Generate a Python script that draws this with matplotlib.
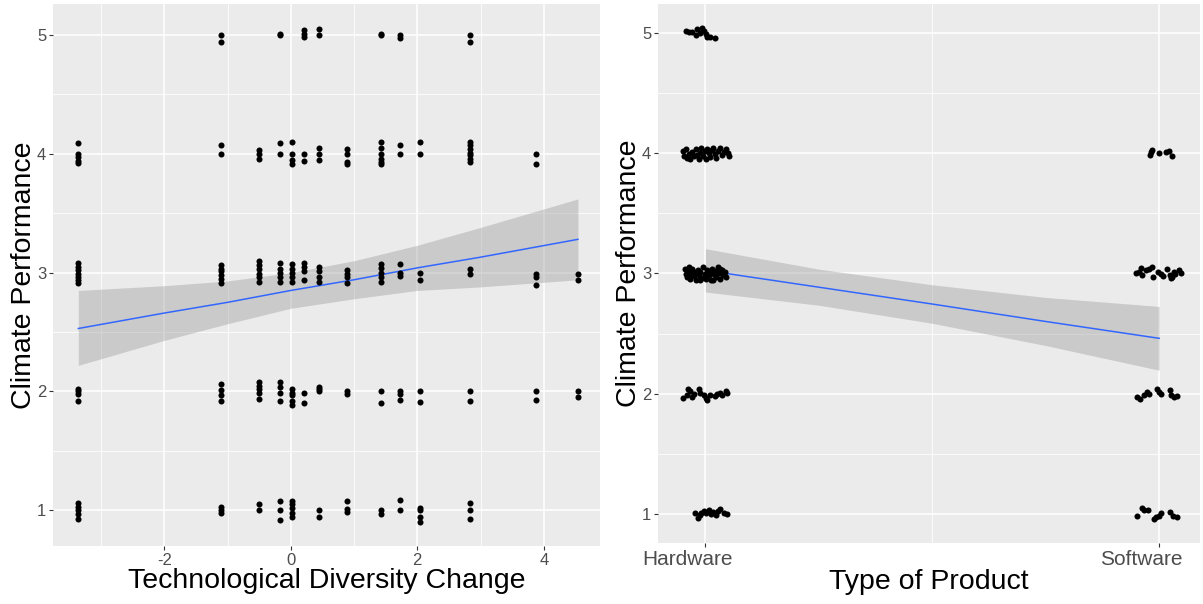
import numpy as np
import matplotlib
matplotlib.use('Agg')
import matplotlib.pyplot as plt
import matplotlib.transforms as mtransforms

plt.rcParams['font.family'] = ['Liberation Sans', 'DejaVu Sans']
plt.rcParams['axes.unicode_minus'] = False

# ---- left panel: technological diversity change (x) vs climate performance (y)
# x columns and the jittered y values found in each column, one list per column
tdc_cols = [-3.36, -1.10, -0.50, -0.17, 0.02, 0.215, 0.44, 0.89, 1.42, 1.72, 2.05, 2.83, 3.88, 4.54]
tdc_y = [
    [4.09, 4.00, 3.97, 3.94, 3.92, 3.08, 3.05, 3.02, 2.99, 2.96, 2.94, 2.91,
     2.02, 2.00, 1.98, 1.92, 1.06, 1.03, 1.00, 0.97, 0.93],                     # -3.36
    [5.00, 4.94, 4.07, 4.00, 3.06, 3.03, 3.01, 2.98, 2.95, 2.91,
     2.06, 2.01, 1.97, 1.92, 1.03, 1.00, 0.98],                                  # -1.10
    [4.03, 4.00, 3.96, 3.10, 3.06, 3.03, 2.99, 2.96, 2.92,
     2.08, 2.05, 2.02, 1.99, 1.94, 1.05, 1.00],                                  # -0.50
    [5.01, 5.00, 4.09, 4.00, 3.08, 3.03, 3.00, 2.96, 2.92,
     2.08, 2.04, 1.99, 1.92, 1.08, 1.00, 0.92],                                  # -0.17
    [4.10, 4.00, 3.95, 3.91, 3.07, 3.03, 3.00, 2.96, 2.92,
     2.02, 1.99, 1.97, 1.92, 1.89, 1.08, 1.05, 1.02, 0.98, 0.94],                # 0.02
    [5.04, 5.01, 4.98, 4.00, 3.94, 3.08, 3.05, 3.01, 2.94, 1.99, 1.90],          # 0.215
    [5.05, 5.00, 4.05, 4.00, 3.95, 3.05, 3.01, 2.96, 2.92,
     2.04, 2.02, 2.00, 1.00, 0.94],                                              # 0.44
    [4.04, 4.00, 3.93, 3.91, 3.02, 2.99, 2.96, 2.91, 2.00, 1.98,
     1.08, 1.01, 0.99],                                                          # 0.89
    [5.01, 5.00, 4.10, 4.05, 4.00, 3.96, 3.93, 3.91, 3.07, 3.04, 3.00, 2.96, 2.92,
     2.00, 1.90, 1.00, 0.97],                                                    # 1.42
    [5.00, 4.97, 4.07, 4.00, 3.07, 3.00, 2.97, 2.00, 1.98, 1.93, 1.09, 1.00],    # 1.72
    [4.10, 4.00, 3.00, 2.94, 2.00, 1.91, 1.02, 1.00, 0.94, 0.90],                # 2.05
    [5.00, 4.94, 4.10, 4.07, 4.04, 4.01, 3.99, 3.96, 3.93, 3.03, 2.99,
     2.00, 1.92, 1.06, 1.00, 0.93],                                              # 2.83
    [4.00, 3.91, 2.99, 2.96, 2.90, 2.00, 1.93],                                  # 3.88
    [2.99, 2.94, 2.00, 1.95],                                                    # 4.54
]

# linear smooth (fit with 95% band)
left_fit_x = [-3.36, -2.0, -1.0, 0.0, 1.0, 2.0, 3.0, 4.54]
left_fit_y = [2.53, 2.66, 2.75, 2.85, 2.94, 3.04, 3.13, 3.28]
left_fit_lo = [2.22, 2.43, 2.57, 2.70, 2.78, 2.85, 2.88, 2.94]
left_fit_hi = [2.85, 2.89, 2.93, 3.00, 3.10, 3.23, 3.38, 3.62]

# ---- right panel: type of product (jittered) vs climate performance
product_labels = ['Hardware', 'Software']

hw_dx = [-0.043, -0.036, -0.029, -0.020, -0.018, -0.012, -0.007, -0.003, 0.001, 0.004, 0.010, 0.020,
         -0.049, -0.048, -0.043, -0.040, -0.036, -0.033, -0.029, -0.025, -0.021, -0.018, -0.015, -0.012,
         -0.009, -0.005, -0.002, 0.001, 0.004, 0.007, 0.011, 0.014, 0.017, 0.021, 0.024, 0.028, 0.032,
         0.036, 0.040, 0.045, 0.049, 0.052,
         -0.045, -0.043, -0.040, -0.038, -0.034, -0.032, -0.029, -0.026, -0.023, -0.020, -0.017, -0.014,
         -0.011, -0.008, -0.005, -0.002, 0.001, 0.004, 0.007, 0.010, 0.012, 0.015, 0.018, 0.021, 0.024,
         0.027, 0.030, 0.033, 0.036, 0.039, 0.042, 0.045, -0.036, -0.012, 0.017, 0.032,
         -0.049, -0.040, -0.038, -0.033, -0.029, -0.025, -0.015, -0.012, -0.004, 0.001, 0.004, 0.010,
         0.021, 0.026, 0.032, 0.037, 0.045, 0.048,
         -0.023, -0.016, -0.012, -0.009, -0.004, 0.002, 0.008, 0.012, 0.017, 0.024, 0.028, 0.033,
         0.040, 0.048]
hw_y = [5.014, 5.008, 5.006, 4.978, 5.033, 5.000, 5.036, 5.014, 4.986, 4.967, 4.964, 4.958,
        4.017, 3.975, 4.036, 3.961, 3.989, 3.953, 4.008, 3.975, 4.031, 3.981, 3.953, 4.003,
        4.044, 3.975, 4.017, 3.953, 4.036, 3.997, 3.969, 4.025, 4.044, 3.989, 3.961, 4.017, 4.044,
        3.981, 4.008, 4.031, 3.997, 3.975,
        3.039, 2.997, 2.969, 3.019, 2.956, 2.997, 3.039, 2.975, 3.011, 2.947, 3.031, 2.983,
        3.011, 2.964, 3.053, 2.997, 2.956, 3.025, 2.983, 3.011, 2.947, 3.039, 2.992, 3.019, 2.969,
        3.053, 3.003, 2.956, 3.031, 2.983, 3.011, 2.969, 3.053, 2.942, 2.942, 3.039,
        1.967, 1.986, 2.042, 2.022, 1.972, 1.994, 2.042, 2.006, 1.986, 1.964, 1.944, 1.986,
        1.978, 1.994, 2.006, 1.992, 2.022, 2.006,
        1.006, 0.964, 0.992, 1.011, 1.028, 1.006, 1.033, 1.000, 1.017, 0.992, 1.028, 1.039,
        1.006, 0.997]

sw_dx = [-0.021, -0.019, -0.015, -0.001, 0.014, 0.021, 0.029,
         -0.051, -0.045, -0.041, -0.037, -0.030, -0.023, -0.015, -0.014, -0.002, 0.003, 0.008,
         0.018, 0.023, 0.027, 0.032, 0.036, 0.043, 0.049, 0.029,
         -0.048, -0.043, -0.034, -0.026, -0.023, -0.004, -0.001, 0.003, 0.023, 0.027, 0.032, 0.040,
         -0.048, -0.037, -0.034, -0.024, -0.012, -0.007, -0.001, 0.005, 0.023, 0.030, 0.040]
sw_y = [3.986, 4.008, 4.022, 4.000, 4.008, 4.014, 3.972,
        3.000, 3.014, 3.042, 2.986, 3.028, 3.036, 3.050, 2.967, 3.014, 2.994, 2.978,
        3.033, 2.986, 2.958, 3.014, 2.994, 3.028, 3.006, 2.972,
        1.972, 1.958, 1.986, 2.014, 2.000, 2.042, 2.014, 1.994, 2.033, 1.986, 1.972, 1.978,
        0.986, 1.050, 1.031, 1.036, 0.958, 0.975, 0.986, 1.008, 1.014, 0.986, 0.975]

right_fit_x = [1.0, 1.25, 1.5, 1.75, 2.0]
right_fit_y = [3.025, 2.885, 2.745, 2.600, 2.460]
right_fit_lo = [2.845, 2.735, 2.585, 2.400, 2.195]
right_fit_hi = [3.205, 3.035, 2.905, 2.800, 2.725]

# ---- figure
fig = plt.figure(figsize=(12.03, 6.04), dpi=100)

def gg_style(ax):
    ax.set_facecolor('#EBEBEB')
    for s in ax.spines.values():
        s.set_visible(False)
    ax.grid(which='major', color='white', lw=1.1)
    ax.grid(which='minor', color='white', lw=0.55)
    ax.set_axisbelow(True)
    ax.tick_params(which='major', length=3, width=0.8, color='#333333',
                   labelcolor='#4D4D4D', labelsize=12, pad=2)
    ax.tick_params(which='minor', length=0)

pt_size = 19

# left panel
ax1 = fig.add_axes([0.0443, 0.096, 0.4545, 0.8974])
gg_style(ax1)
px = np.concatenate([np.full(len(ys), c) for c, ys in zip(tdc_cols, tdc_y)])
py = np.concatenate([np.array(ys) for ys in tdc_y])
ax1.fill_between(left_fit_x, left_fit_lo, left_fit_hi, color='#999999', alpha=0.4, lw=0, zorder=2)
ax1.plot(left_fit_x, left_fit_y, color='#3366FF', lw=1.1, zorder=3)
ax1.scatter(px, py, s=pt_size, color='black', lw=0, zorder=4)
ax1.set_xlim(-3.756, 4.89)
ax1.set_ylim(0.70, 5.26)
ax1.set_xticks([-2, 0, 2, 4])
ax1.set_xticks([-3, -1, 1, 3], minor=True)
ax1.set_yticks([1, 2, 3, 4, 5])
ax1.set_yticks([1.5, 2.5, 3.5, 4.5], minor=True)
ax1.set_xlabel('Technological Diversity Change', fontsize=20.5, labelpad=0)
ax1.set_ylabel('Climate Performance', fontsize=20.5, labelpad=0)

# right panel
ax2 = fig.add_axes([0.5472, 0.1005, 0.4503, 0.893])
gg_style(ax2)
ax2.fill_between(right_fit_x, right_fit_lo, right_fit_hi, color='#999999', alpha=0.4, lw=0, zorder=2)
ax2.plot(right_fit_x, right_fit_y, color='#3366FF', lw=1.1, zorder=3)
ax2.scatter(1 + np.array(hw_dx), hw_y, s=pt_size, color='black', lw=0, zorder=4)
ax2.scatter(2 + np.array(sw_dx), sw_y, s=pt_size, color='black', lw=0, zorder=4)
ax2.set_xlim(0.896, 2.09)
ax2.set_ylim(0.756, 5.24)
ax2.set_xticks([1, 2])
ax2.set_xticklabels(product_labels)
ax2.set_xticks([1.5], minor=True)
ax2.set_yticks([1, 2, 3, 4, 5])
ax2.set_yticks([1.5, 2.5, 3.5, 4.5], minor=True)
ax2.tick_params(axis='x', which='major', labelsize=15, pad=1.5)
shift = mtransforms.ScaledTranslation(-18 / 100, 0, fig.dpi_scale_trans)
for lab in ax2.get_xticklabels():
    lab.set_transform(lab.get_transform() + shift)
ax2.set_xlabel('Type of Product', fontsize=20.5, labelpad=0)
ax2.set_ylabel('Climate Performance', fontsize=20.5, labelpad=0)

fig.savefig('out.png', dpi=100)
